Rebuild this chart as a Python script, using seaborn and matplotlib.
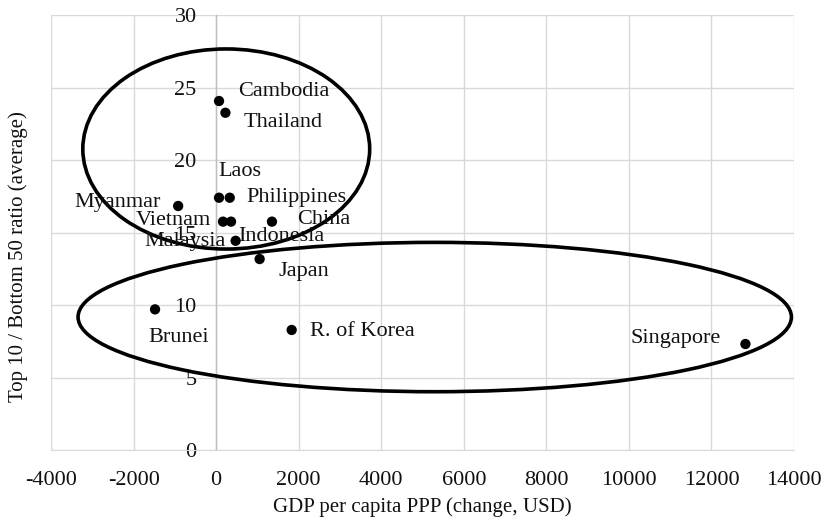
import numpy as np
import pandas as pd
import matplotlib
matplotlib.use("Agg")
import matplotlib.pyplot as plt
from matplotlib.patches import Ellipse
import seaborn as sns

# values
countries = ["Cambodia", "Thailand", "Laos", "Philippines", "Myanmar", "Vietnam",
             "Malaysia", "China", "Indonesia", "Japan", "Brunei", "R. of Korea", "Singapore"]
gdp_change = [70, 225, 70, 330, -920, 167, 361, 1352, 472, 1054, -1480, 1830, 12823]
top_bottom_ratio = [24.07, 23.26, 17.4, 17.4, 16.83, 15.75, 15.75, 15.75, 14.43, 13.17, 9.70, 8.28, 7.31]

x_ticks = [-4000, -2000, 0, 2000, 4000, 6000, 8000, 10000, 12000, 14000]
y_ticks = [0, 5, 10, 15, 20, 25, 30]

# label placement: (dx px, dy px, ha)
label_pos = {
    "Cambodia": (19, 10, "left"),
    "Thailand": (18, -9.5, "left"),
    "Laos": (21, 26, "center"),
    "Philippines": (17, 0, "left"),
    "Myanmar": (-17, 3, "right"),
    "Vietnam": (-12.5, 0.7, "right"),
    "Malaysia": (-5.6, -20, "right"),
    "China": (25.4, 1.7, "left"),
    "Indonesia": (2.3, 4, "left"),
    "Japan": (19.3, -12.7, "left"),
    "Brunei": (24, -28, "center"),
    "R. of Korea": (18, -1.7, "left"),
    "Singapore": (-25, 5.7, "right"),
}

# grouping ellipses (center x, center y, width, height) in data units
groups = [(245, 20.76, 6950, 13.8), (5296, 9.17, 17282, 10.3)]

df = pd.DataFrame({"country": countries, "gdp": gdp_change, "ratio": top_bottom_ratio})

sns.set_style("white")
plt.rcParams["font.family"] = ["Liberation Serif", "DejaVu Serif"]

fig = plt.figure(figsize=(8.27, 5.20), dpi=100)
ax = fig.add_axes([0.0617, 0.1346, 0.8984, 0.8365])

sns.scatterplot(data=df, x="gdp", y="ratio", color="black", s=55,
                edgecolor="none", ax=ax, zorder=5)

for c, x, y in zip(countries, gdp_change, top_bottom_ratio):
    dx, dy, ha = label_pos[c]
    ax.annotate(c, (x, y), xytext=(dx, dy), textcoords="offset pixels",
                ha=ha, va="center", fontsize=16, color="#111111", zorder=6)

for cx, cy, w, h in groups:
    ax.add_patch(Ellipse((cx, cy), w, h, fill=False, edgecolor="black",
                         linewidth=2.6, zorder=4))

ax.set_xlim(-4000, 14000)
ax.set_ylim(0, 30)
ax.set_xticks(x_ticks)
ax.set_yticks(y_ticks)
ax.set_xticklabels([str(v) for v in x_ticks])
ax.grid(True, color="#d9d9d9", linewidth=1.0, zorder=0)
ax.set_axisbelow(True)

ax.spines["left"].set_position(("data", 0))
ax.spines["left"].set_color("#bfbfbf")
ax.spines["left"].set_linewidth(1.0)
ax.spines["bottom"].set_color("#d9d9d9")
ax.spines["top"].set_visible(False)
ax.spines["right"].set_visible(False)

ax.tick_params(axis="y", length=0, pad=14, labelsize=16, labelcolor="#111111")
ax.tick_params(axis="x", length=0, pad=15, labelsize=16, labelcolor="#111111")

ax.set_xlabel("GDP per capita PPP (change, USD)", fontsize=15, color="#111111")
ax.set_ylabel("Top 10 / Bottom 50 ratio (average)", fontsize=15, color="#111111")
ax.xaxis.set_label_coords(0.5, -0.108)
ax.yaxis.set_label_coords(-0.031, 0.444)

fig.savefig("out.png", dpi=100)
